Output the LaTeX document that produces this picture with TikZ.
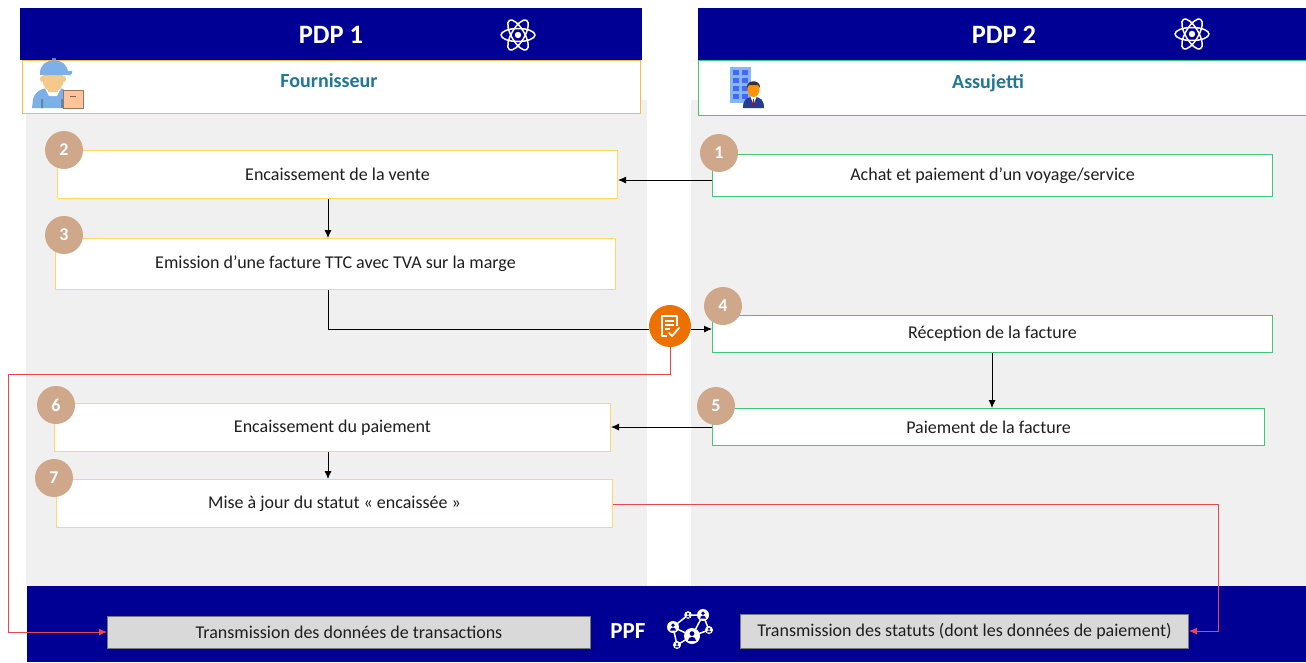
\documentclass[tikz,border=0pt]{standalone}
\usepackage{fontspec}
\setmainfont{Carlito}
\usetikzlibrary{arrows.meta}
\definecolor{hdrblue}{RGB}{0,0,148}
\definecolor{tealtxt}{RGB}{31,118,150}
\definecolor{stepyel}{RGB}{255,217,102}
\definecolor{actorgold}{RGB}{245,190,60}
\definecolor{stepgreen}{RGB}{60,200,120}
\definecolor{numtan}{RGB}{207,168,140}
\definecolor{docorange}{RGB}{237,113,0}
\definecolor{flowred}{RGB}{235,70,80}
\definecolor{panelgrey}{RGB}{240,240,240}
\definecolor{ppfgrey}{RGB}{217,217,217}
\definecolor{ppfline}{RGB}{120,120,120}
\definecolor{txtdark}{RGB}{30,30,30}
\definecolor{capblue}{RGB}{125,175,232}
\definecolor{skin}{RGB}{245,200,140}
\definecolor{parcel}{RGB}{255,196,155}
\definecolor{towerblue}{RGB}{130,185,240}
\definecolor{suit}{RGB}{40,60,140}
\begin{document}
\begin{tikzpicture}[x=1pt,y=-1pt,
  stepbase/.style={draw, line width=1pt, fill=white, anchor=north west, inner sep=0pt,
    text=txtdark, font=\fontsize{18}{21}\selectfont},
  stepY/.style={stepbase, draw=stepyel},
  stepG/.style={stepbase, draw=stepgreen},
  num/.style={circle, fill=numtan, minimum size=38pt, inner sep=0pt, text=white,
    font=\bfseries\fontsize{18}{20}\selectfont},
  hdr/.style={fill=hdrblue, anchor=north west, inner sep=0pt},
  hdrtxt/.style={text=white, font=\bfseries\fontsize{26.5}{30}\selectfont},
  actortxt/.style={text=tealtxt, font=\bfseries\fontsize{20}{24}\selectfont},
  ppfbox/.style={draw=ppfline, line width=1pt, fill=ppfgrey, anchor=north west, inner sep=0pt,
    text=txtdark, font=\fontsize{18}{21}\selectfont},
  arr/.style={line width=0.9pt, -{Latex[length=8pt,width=7pt]}},
  redarr/.style={draw=flowred, line width=0.9pt, -{Latex[length=8pt,width=7pt]}},
  icon/.style={draw=white, line width=1.6pt},
]
\useasboundingbox (0,0) rectangle (1306,662);
\fill[white] (0,0) rectangle (1306,662);

% lane backgrounds
\fill[panelgrey] (26,100) rectangle (647,586);
\fill[panelgrey] (691,100) rectangle (1306,586);

% lane headers
\node[hdr, minimum width=622pt, minimum height=52pt] (h1) at (20,8) {};
\node[hdrtxt] (h1t) at (331,35) {PDP 1};
\node[hdr, minimum width=608pt, minimum height=52pt] (h2) at (698,8) {};
\node[hdrtxt] (h2t) at (1004,35) {PDP 2};

% atom symbols in the headers
\foreach \cx/\cy in {518/35, 1192/34}{
  \foreach \a in {0,60,120}
    \draw[icon, line width=1.5pt, rotate around={\a:(\cx,\cy)}] (\cx,\cy) ellipse (17pt and 6.5pt);
  \fill[white] (\cx,\cy) circle (3.2pt);
}

% actor boxes
\node[draw=actorgold, line width=1pt, fill=white, anchor=north west, minimum width=618pt, minimum height=53pt, inner sep=0pt] (a1) at (22,60) {};
\node[actortxt] (a1t) at (329,81) {Fournisseur};
\node[draw=stepgreen, line width=1pt, fill=white, anchor=north west, minimum width=610pt, minimum height=55pt, inner sep=0pt] (a2) at (698,60) {};
\node[actortxt] (a2t) at (988,83) {Assujetti};

% delivery person
\fill[capblue] (32,108) -- (33,99) .. controls (35,92) and (40,89) .. (47,88) -- (60,88) .. controls (65,89) and (68,93) .. (68,99) -- (68,108) -- cycle;
\fill[white] (45,88) -- (61,88) -- (57,96) -- (49,96) -- cycle;
\fill[capblue!75!black] (41,99) rectangle (43,108) (61,99) rectangle (63,108);
\fill[skin] (48,84) rectangle (58,92);
\fill[skin] (53,80) ellipse (10.5pt and 12pt);
\fill[skin] (42,79) ellipse (2pt and 3pt) (64,79) ellipse (2pt and 3pt);
\fill[capblue] (40,73) .. controls (40,56) and (68,56) .. (68,73) -- cycle;
\fill[capblue] (40,71) -- (72,71) .. controls (73,73) and (72,75) .. (70,75) -- (40,75) -- cycle;
\fill[capblue!75!black] (52,57.5) rectangle (56,60);
\fill[parcel] (63,90) rectangle (83,108);
\draw[parcel!60!black, line width=0.8pt] (63,90) rectangle (83,108);
\draw[parcel!50!black, line width=1pt] (70,96) -- (76,96);

% office worker with building
\fill[towerblue] (730,67) rectangle (751,103);
\foreach \wy in {70,78,86,94}{
  \fill[towerblue!55!blue] (733,\wy) rectangle (739,\wy+5);
  \fill[towerblue!55!blue] (742,\wy) rectangle (748,\wy+5);
}
\fill[suit] (743,108) .. controls (743,100) and (746,97) .. (753.5,97) .. controls (761,97) and (764,100) .. (764,108) -- cycle;
\fill[white] (750.5,97) -- (756.5,97) -- (753.5,104) -- cycle;
\fill[red!80!black] (752.8,99) rectangle (754.2,107);
\fill[orange!85!yellow] (753.5,89.5) ellipse (6pt and 7.5pt);
\fill[black!80] (747,88) .. controls (746,79) and (761,79) .. (760,88) -- (758,85) -- (749,85) -- cycle;

% spine used by the vertical arrows on the left
\coordinate (spine) at (328,0);

% process steps
\node[stepY, minimum width=560pt, minimum height=48pt] (b2) at (57,150) {Encaissement de la vente};
\node[stepY, minimum width=560pt, minimum height=51pt] (b3) at (55,238) {Emission d’une facture TTC avec TVA sur la marge};
\node[stepY, minimum width=556pt, minimum height=48pt] (b6) at (54,403) {Encaissement du paiement};
\node[stepY, minimum width=556pt, minimum height=48pt] (b7) at (56,479) {Mise à jour du statut « encaissée »};
\node[stepG, minimum width=560pt, minimum height=42pt] (b1) at (712,154) {Achat et paiement d’un voyage/service};
\node[stepG, minimum width=560pt, minimum height=37pt] (b4) at (712,315) {Réception de la facture};
\node[stepG, minimum width=552pt, minimum height=37pt] (b5) at (712,408) {Paiement de la facture};

% step numbers
\node[num] (n1) at (719,153) {1};
\node[num] (n2) at (64,150) {2};
\node[num] (n3) at (64,235) {3};
\node[num] (n4) at (723,306) {4};
\node[num] (n5) at (716,406) {5};
\node[num] (n6) at (56,405) {6};
\node[num] (n7) at (54,478) {7};

% invoice exchange badge
\node[circle, fill=docorange, minimum size=42pt, inner sep=0pt] (doc) at (670,326) {};
\draw[white, line width=1.6pt, line join=round] (667,336) -- (662,336) -- (662,316) -- (677,316) -- (677,326);
\draw[white, line width=1.4pt] (665,321) -- (674,321) (665,325) -- (674,325) (665,329) -- (670,329);
\draw[white, line width=1.8pt, line cap=round, line join=round] (669,333) -- (672,336) -- (679,328);

% PPF band
\fill[hdrblue] (27,586) rectangle (1306,662);
\node[ppfbox, minimum width=483pt, minimum height=32pt] (t1) at (107,616) {Transmission des données de transactions};
\node[ppfbox, minimum width=448pt, minimum height=34pt] (t2) at (740,614) {Transmission des statuts (dont les données de paiement)};
\node[hdrtxt, font=\bfseries\fontsize{23}{26}\selectfont] (ppf) at (628,631) {PPF};

% network symbol
\draw[white, line width=1.5pt] (673,627) -- (688,615) -- (703,615) -- (709,630) -- (692,636) -- (673,627)
  (703,615) -- (692,636) (673,627) -- (677,645) -- (692,636);
\foreach \px/\py/\r in {673/627/6, 688/615/3.8, 703/615/6, 709/630/4, 692/636/8, 677/645/4}{
  \fill[white] (\px,\py) circle (\r pt);
  \fill[hdrblue] (\px,\py-0.3*\r) circle (0.3*\r pt);
  \fill[hdrblue] (\px-0.5*\r,\py+0.6*\r) arc (180:0:0.5*\r pt) -- cycle;
}

% connectors
\draw[arr] (b1.west |- 0,180) -- (b2.east |- 0,180);
\draw[arr] (b2.south -| spine) -- (b3.north -| spine);
\coordinate (k3) at (328,329);
\draw[line width=0.9pt] (b3.south -| spine) -- (k3) -- (doc.west |- k3);
\draw[arr] (doc.east |- k3) -- (b4.west |- k3);
\draw[arr] (b4.south -| 992,0) -- (b5.north -| 992,0);
\draw[arr] (b5.west |- 0,427) -- (b6.east |- 0,427);
\draw[arr] (b6.south -| spine) -- (b7.north -| spine);

% reporting flows to the PPF
\coordinate (r1) at (670,374);
\coordinate (r2) at (8,374);
\coordinate (r3) at (8,632);
\draw[redarr] (doc.south) -- (r1) -- (r2) -- (r3) -- (t1.west |- r3);
\coordinate (s1) at (1218,504);
\coordinate (s2) at (1218,631);
\draw[redarr] (b7.east |- s1) -- (s1) -- (s2) -- (t2.east |- s2);
\end{tikzpicture}
\end{document}
